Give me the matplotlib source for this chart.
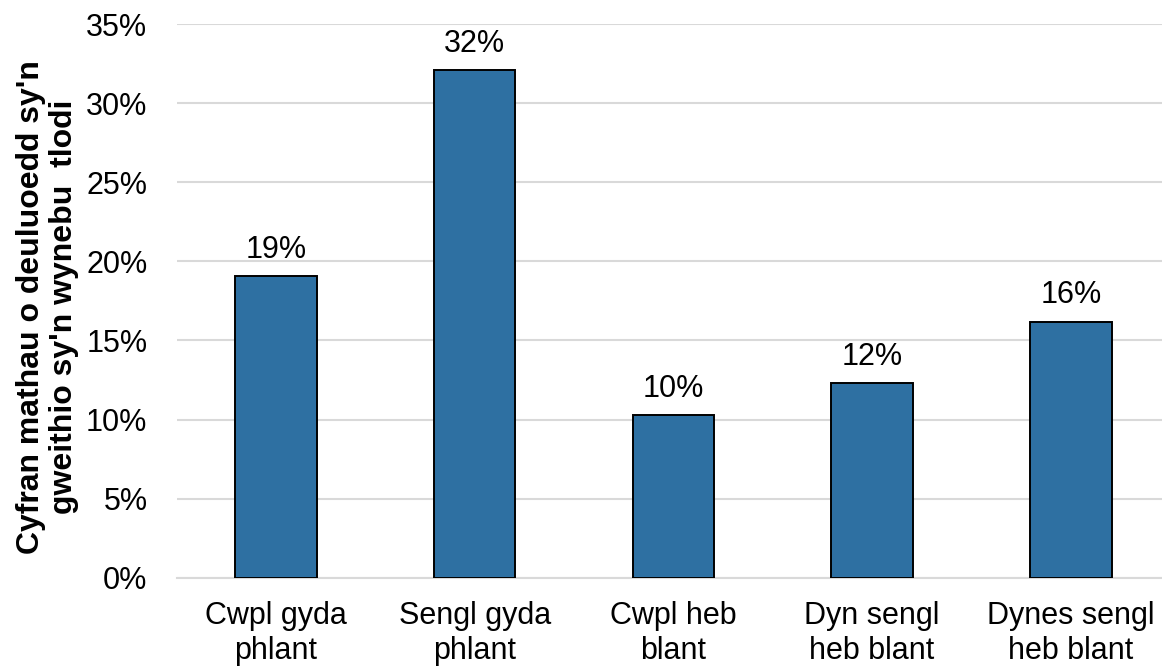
import matplotlib.pyplot as plt
from matplotlib.ticker import PercentFormatter

categories = ['Cwpl gyda\nphlant', 'Sengl gyda\nphlant', 'Cwpl heb\nblant',
              'Dyn sengl\nheb blant', 'Dynes sengl\nheb blant']
values = [19.1, 32.1, 10.3, 12.3, 16.2]
labels = ['19%', '32%', '10%', '12%', '16%']

plt.rcParams['font.family'] = ['Liberation Sans', 'DejaVu Sans']

fig = plt.figure(figsize=(11.62, 6.68), dpi=100)
ax = fig.add_axes([0.152, 0.135, 0.855, 0.829])

x = range(len(categories))
bars = ax.bar(x, values, width=0.41, color='#2E70A2', edgecolor='black', linewidth=1.4, zorder=3)

for b, lab in zip(bars, labels):
    ax.annotate(lab, (b.get_x() + b.get_width() / 2, b.get_height()),
                xytext=(0, 8), textcoords='offset points',
                ha='center', va='bottom', fontsize=22)

ax.set_xlim(-0.5, 4.5)
ax.set_ylim(0, 35)
ax.set_yticks(range(0, 36, 5))
ax.yaxis.set_major_formatter(PercentFormatter(decimals=0))
ax.set_xticks(list(x))
ax.set_xticklabels(categories, fontsize=22, linespacing=1.2)
ax.tick_params(axis='y', labelsize=22, length=0, pad=21)
ax.tick_params(axis='x', length=0, pad=17)

ax.grid(axis='y', color='#D9D9D9', linewidth=1.5, zorder=0)
for s in ['top', 'right', 'left']:
    ax.spines[s].set_visible(False)
ax.spines['bottom'].set_color('#D9D9D9')
ax.spines['bottom'].set_linewidth(1.5)

fig.text(0.041, 0.541, "Cyfran mathau o deuluoedd sy'n\ngweithio sy'n wynebu  tlodi",
         rotation=90, ha='center', va='center', fontsize=23, fontweight='bold',
         linespacing=1.15)

plt.savefig('out.png')
plt.close()
